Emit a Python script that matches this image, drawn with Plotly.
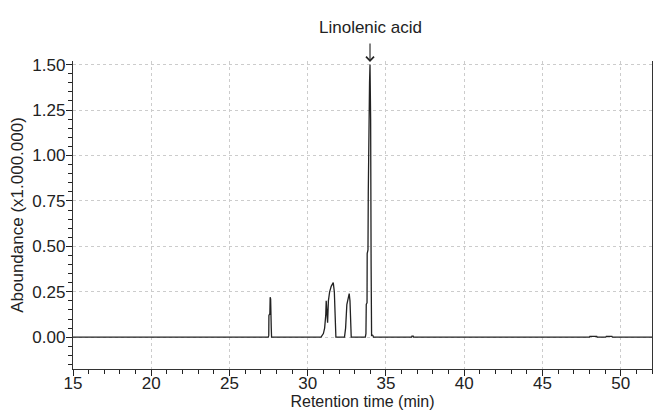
import plotly.graph_objects as go

# Retention time (min) and abundance (x1,000,000)
retention_time = [
    15.0,
    27.48, 27.51, 27.52, 27.58, 27.60, 27.63, 27.67, 27.69,
    30.85, 31.00, 31.08, 31.15, 31.18, 31.22, 31.27, 31.32, 31.40, 31.50,
    31.63, 31.70, 31.76, 31.80,
    32.35, 32.42, 32.50, 32.60, 32.65, 32.70, 32.74, 32.78,
    33.68, 33.72, 33.74, 33.79, 33.80, 33.85, 33.87, 33.90, 33.95, 33.98,
    34.02, 34.05, 34.08, 34.12, 34.16, 34.20,
    36.64, 36.66, 36.74, 36.76,
    48.00, 48.03, 48.47, 48.50,
    49.05, 49.08, 49.44, 49.47,
    52.0,
]
abundance = [
    0.0,
    0.0, 0.01, 0.12, 0.13, 0.22, 0.21, 0.05, 0.0,
    0.0, 0.02, 0.05, 0.12, 0.20, 0.10, 0.08, 0.20, 0.25, 0.28,
    0.30, 0.25, 0.12, 0.0,
    0.0, 0.05, 0.18, 0.23, 0.24, 0.20, 0.05, 0.0,
    0.0, 0.02, 0.18, 0.19, 0.46, 0.48, 0.80, 1.18, 1.40, 1.50,
    1.20, 0.40, 0.01, 0.012, 0.01, 0.0,
    0.0, 0.006, 0.006, 0.0,
    0.0, 0.005, 0.005, 0.0,
    0.0, 0.005, 0.005, 0.0,
    0.0,
]

x_ticks = [15, 20, 25, 30, 35, 40, 45, 50]
y_ticks = [0.0, 0.25, 0.5, 0.75, 1.0, 1.25, 1.5]
y_tick_labels = ["0.00", "0.25", "0.50", "0.75", "1.00", "1.25", "1.50"]

peak_label = "Linolenic acid"
peak_time = 33.98
peak_top = 1.515

FONT = "Liberation Sans, Arial, Helvetica, sans-serif"

fig = go.Figure()
fig.add_trace(go.Scatter(
    x=retention_time, y=abundance, mode="lines",
    line=dict(color="#222222", width=1.3),
    hoverinfo="skip", showlegend=False,
))

fig.add_annotation(
    x=peak_time, y=peak_top, xref="x", yref="y",
    text="", showarrow=True, ax=0, ay=-20,
    arrowhead=4, arrowsize=1.4, arrowwidth=1.1, arrowcolor="#222222",
)
fig.add_annotation(
    x=peak_time, y=1.0, xref="x", yref="paper",
    yanchor="middle", yshift=34, text=peak_label, showarrow=False,
    font=dict(family=FONT, size=17, color="#222222"),
)

axis_common = dict(
    showline=True, linecolor="#333333", linewidth=1.3,
    ticks="outside", tickcolor="#222222", tickwidth=1.2, ticklen=6,
    showgrid=True, gridcolor="#cccccc", griddash="dot", gridwidth=1,
    zeroline=False, automargin=False,
    tickfont=dict(family=FONT, size=17, color="#222222"),
)

fig.update_layout(
    width=653, height=414,
    margin=dict(l=73, r=1, t=61, b=45),
    paper_bgcolor="white", plot_bgcolor="white",
    font=dict(family=FONT, color="#222222"),
    xaxis=dict(
        range=[15, 52], tickvals=x_ticks, ticklabelstandoff=-8,
        minor=dict(ticks="outside", dtick=1, tick0=15, ticklen=4,
                   tickcolor="#222222", showgrid=False),
        title=dict(text="Retention time (min)",
                   font=dict(family=FONT, size=16), standoff=3),
        **axis_common,
    ),
    yaxis=dict(
        range=[-0.175, 1.52], tickvals=y_ticks, ticktext=y_tick_labels,
        mirror=True, ticklabelstandoff=-3,
        minor=dict(ticks="outside", dtick=0.05, tick0=0, ticklen=4,
                   tickcolor="#222222", showgrid=False),
        title=dict(text="Aboundance (x1.000.000)",
                   font=dict(family=FONT, size=17), standoff=4),
        **axis_common,
    ),
)

fig.write_html(
    "out.html",
    config={"displayModeBar": False},
    post_script="document.body.style.margin='0';document.body.style.padding='0';",
)
